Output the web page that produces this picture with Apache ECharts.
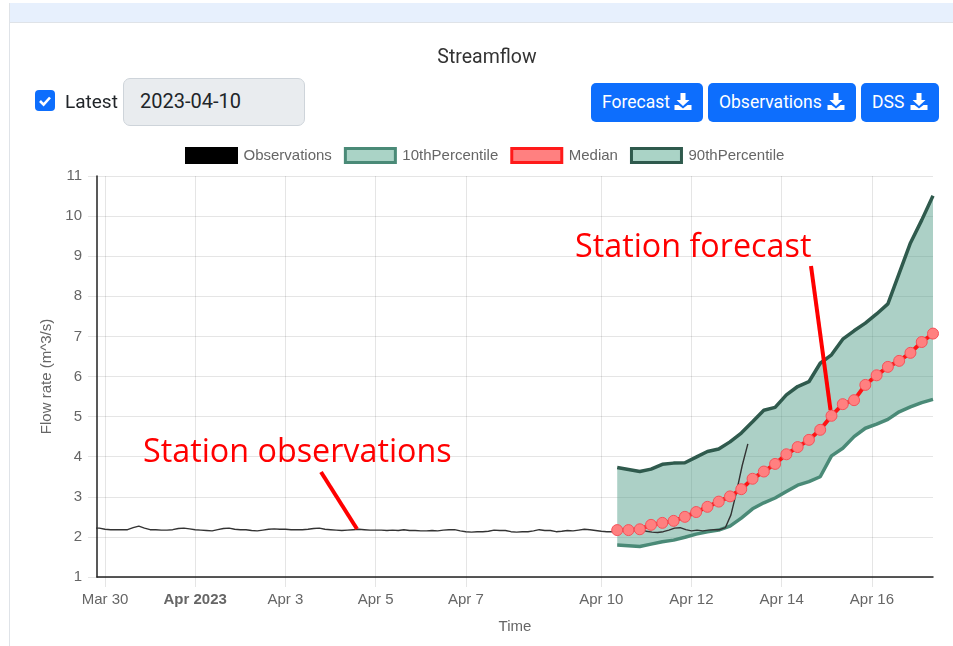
<!DOCTYPE html>
<html>
<head>
<meta charset="utf-8">
<title>Streamflow</title>
<script src="https://cdn.jsdelivr.net/npm/echarts@6/dist/echarts.min.js"></script>
<style>
    html, body { margin: 0; padding: 0; background: #fff; overflow: hidden; }
    body { width: 953px; height: 646px; position: relative; font-family: Roboto, sans-serif; }
    #band { position: absolute; left: 9px; top: 3px; width: 944px; height: 19px; background: #e7f0fd; border-bottom: 1px solid #dfe3e8; }
    #edge { position: absolute; left: 9px; top: 3px; width: 1px; height: 643px; background: #dfe3e8; }
    #chart { position: absolute; left: 0; top: 0; width: 953px; height: 646px; }
    .check { position: absolute; left: 35px; top: 90px; width: 20px; height: 21px; background: #0d6efd; border-radius: 4px; }
    .latest { position: absolute; left: 65px; top: 90px; font-size: 19px; color: #212529; }
    .date { position: absolute; left: 123px; top: 78px; width: 182px; height: 48px; box-sizing: border-box; background: #e9ecef; border: 1px solid #ced4da; border-radius: 7px; font-size: 20px; line-height: 45px; padding-left: 16px; color: #212529; }
    .btn { position: absolute; top: 83px; height: 39px; box-sizing: border-box; background: #0d6efd; border-radius: 5px; color: #fff; font-size: 17.5px; line-height: 38px; padding-left: 11px; white-space: nowrap; }
    .btn svg { position: absolute; top: 10px; width: 18px; height: 17px; }
</style>
</head>
<body>
<div id="band"></div>
<div id="edge"></div>
<div id="chart"></div>
<div class="check"><svg width="20" height="21" viewBox="0 0 20 21"><path d="M5 11 L8.6 14.6 L15 7.5" fill="none" stroke="#fff" stroke-width="2.6"/></svg></div>
<div class="latest">Latest</div>
<div class="date">2023-04-10</div>
<div class="btn" style="left:591px;width:112px">Forecast<svg style="right:11px" viewBox="0 0 17 17"><path d="M6 0 H11 V7 H15 L8.5 13 L2 7 H6 Z M0 12 H4 L8.5 15.5 L13 12 H17 V17 H0 Z" fill="#fff"/></svg></div>
<div class="btn" style="left:708px;width:148px">Observations<svg style="right:11px" viewBox="0 0 17 17"><path d="M6 0 H11 V7 H15 L8.5 13 L2 7 H6 Z M0 12 H4 L8.5 15.5 L13 12 H17 V17 H0 Z" fill="#fff"/></svg></div>
<div class="btn" style="left:861px;width:78px">DSS<svg style="right:11px" viewBox="0 0 17 17"><path d="M6 0 H11 V7 H15 L8.5 13 L2 7 H6 Z M0 12 H4 L8.5 15.5 L13 12 H17 V17 H0 Z" fill="#fff"/></svg></div>
<script>
// observations, one value every 3 hours from obsStart
const obsStart = '2023-03-29T18:00:00';
const obsStepHours = 3;
const observations = [
    2.22,
    2.22, 2.19, 2.18, 2.18, 2.18, 2.18, 2.23, 2.27, 2.22, 2.18, 2.18, 2.17, 2.17, 2.18, 2.21,
    2.22, 2.20, 2.18, 2.17, 2.16, 2.15, 2.18, 2.21, 2.22, 2.19, 2.18, 2.18, 2.16, 2.15, 2.17,
    2.19, 2.20, 2.19, 2.19, 2.18, 2.18, 2.18, 2.19, 2.21, 2.22, 2.19, 2.18, 2.17, 2.16, 2.17,
    2.18, 2.19, 2.18, 2.17, 2.17, 2.17, 2.16, 2.17, 2.16, 2.18, 2.16, 2.16, 2.15, 2.15,
    2.16, 2.15, 2.17, 2.18, 2.18, 2.15, 2.13, 2.12, 2.13, 2.13, 2.14, 2.17, 2.16, 2.16, 2.13,
    2.12, 2.13, 2.13, 2.15, 2.18, 2.16, 2.16, 2.13, 2.14, 2.16, 2.15, 2.17, 2.19, 2.18,
    2.16, 2.14, 2.13, 2.13, 2.14, 2.16, 2.18, 2.21, 2.18, 2.14, 2.12, 2.11, 2.13, 2.17, 2.22,
    2.23, 2.18, 2.15, 2.17, 2.15, 2.17, 2.18, 2.18, 2.23,
    2.55, 3.13, 3.78, 4.32
];

// forecast, one value every 6 hours from forecastStart
const forecastStart = '2023-04-10T08:30:00';
const forecastStepHours = 6;
const p10 = [
    1.80, 1.78, 1.76, 1.82, 1.88, 1.92, 1.99, 2.07, 2.13, 2.17, 2.27, 2.47, 2.70, 2.85, 2.97,
    3.13, 3.29, 3.38, 3.50, 4.02, 4.21, 4.50, 4.71, 4.81, 4.93, 5.12, 5.24, 5.35, 5.43
];
const median = [
    2.17, 2.17, 2.19, 2.30, 2.35, 2.40, 2.50, 2.62, 2.75, 2.88, 3.01, 3.19, 3.45, 3.63, 3.82,
    4.06, 4.24, 4.42, 4.67, 5.02, 5.31, 5.41, 5.79, 6.03, 6.24, 6.39, 6.59, 6.86, 7.07
];
const p90 = [
    3.73, 3.68, 3.63, 3.69, 3.81, 3.84, 3.85, 3.99, 4.13, 4.19, 4.37, 4.59, 4.87, 5.16, 5.23,
    5.54, 5.75, 5.87, 6.33, 6.54, 6.93, 7.14, 7.33, 7.56, 7.81, 8.57, 9.33, 9.90, 10.51
];

const tickDates = ['2023-03-30', '2023-04-01', '2023-04-03', '2023-04-05', '2023-04-07', '2023-04-10', '2023-04-12', '2023-04-14', '2023-04-16'];
const tickLabels = ['Mar 30', '{b|Apr 2023}', 'Apr 3', 'Apr 5', 'Apr 7', 'Apr 10', 'Apr 12', 'Apr 14', 'Apr 16'];

const HOUR = 3600000;
const toTime = s => new Date(s.length > 10 ? s : s + 'T00:00:00').getTime();
const obsPoints = observations.map((v, i) => [toTime(obsStart) + i * obsStepHours * HOUR, v]);
const forecastTimes = median.map((v, i) => toTime(forecastStart) + i * forecastStepHours * HOUR);
const tickValues = tickDates.map(toTime);
const pair = values => values.map((v, i) => [forecastTimes[i], v]);

const FONT = '"Liberation Sans", Arial, sans-serif';
const GREY = '#666';
const GRID = 'rgba(0,0,0,0.1)';
const BAND_FILL = 'rgba(62,146,122,0.43)';

function legendItem(name, fill, border) {
    return {name: name, icon: 'rect', itemStyle: {color: fill, borderColor: border, borderWidth: 3, opacity: 1}};
}

function renderBand(params, api) {
    if (params.dataIndex !== 0) return null;
    const upper = p90.map((v, i) => api.coord([forecastTimes[i], v]));
    const lower = p10.map((v, i) => api.coord([forecastTimes[i], v])).reverse();
    return {
        type: 'polygon',
        shape: {points: upper.concat(lower)},
        style: {fill: BAND_FILL},
        silent: true
    };
}

const chart = echarts.init(document.getElementById('chart'), null, {renderer: 'canvas'});
chart.setOption({
    animation: false,
    title: {
        text: 'Streamflow',
        left: 482,
        top: 43,
        textAlign: 'center',
        textStyle: {fontFamily: 'Roboto', fontSize: 19.5, fontWeight: 'normal', color: '#333'}
    },
    legend: {
        left: 185,
        top: 147,
        padding: 0,
        itemWidth: 50,
        itemHeight: 14,
        itemGap: 12,
        textStyle: {fontFamily: FONT, fontSize: 15, color: GREY, padding: [0, 0, 0, 2]},
        data: [
            legendItem('Observations', '#000', '#000'),
            legendItem('10thPercentile', '#aad3c6', '#4a8a77'),
            legendItem('Median', '#ff8080', '#ff1a1a'),
            legendItem('90thPercentile', '#aad3c6', '#2f5a4d')
        ]
    },
    grid: {left: 97, right: 20, top: 176, bottom: 69},
    // plain value axis holding timestamps: the time axis fails on customValues labels
    xAxis: {
        type: 'value',
        min: toTime('2023-03-29T19:45:00'),
        max: toTime('2023-04-17T08:30:00'),
        name: 'Time',
        nameLocation: 'middle',
        nameGap: 42,
        nameTextStyle: {fontFamily: FONT, fontSize: 15, color: GREY},
        axisLine: {onZero: false, lineStyle: {color: '#222', width: 1.5}},
        axisTick: {length: 10, lineStyle: {color: GRID}, customValues: tickValues},
        axisLabel: {
            margin: 15,
            fontFamily: FONT,
            fontSize: 15,
            color: GREY,
            customValues: tickValues,
            hideOverlap: false,
            formatter: value => tickLabels[tickValues.indexOf(value)] || '',
            rich: {b: {fontFamily: FONT, fontSize: 15, fontWeight: 'bold', color: GREY}}
        },
        splitLine: {show: true, lineStyle: {color: GRID}}
    },
    yAxis: {
        type: 'value',
        min: 1,
        max: 11,
        interval: 1,
        name: 'Flow rate (m^3/s)',
        nameLocation: 'middle',
        nameGap: 40,
        nameTextStyle: {fontFamily: FONT, fontSize: 15, color: GREY},
        axisLine: {show: true, lineStyle: {color: '#222', width: 1.5}},
        axisTick: {show: true, length: 9, lineStyle: {color: GRID}},
        axisLabel: {margin: 15, fontFamily: FONT, fontSize: 15, color: GREY},
        splitLine: {show: true, lineStyle: {color: GRID}}
    },
    series: [
        {
            name: 'band',
            type: 'custom',
            renderItem: renderBand,
            data: pair(median),
            encode: {x: 0, y: 1},
            clip: true,
            silent: true,
            z: 1
        },
        {
            name: '10thPercentile',
            type: 'line',
            data: pair(p10),
            showSymbol: false,
            lineStyle: {color: '#4a8a77', width: 3.5},
            itemStyle: {color: '#4a8a77'},
            z: 2
        },
        {
            name: '90thPercentile',
            type: 'line',
            data: pair(p90),
            showSymbol: false,
            lineStyle: {color: '#2f5a4d', width: 3.5},
            itemStyle: {color: '#2f5a4d'},
            z: 2
        },
        {
            name: 'Observations',
            type: 'line',
            data: obsPoints,
            showSymbol: false,
            lineStyle: {color: '#333', width: 1.4},
            itemStyle: {color: '#000'},
            z: 3
        },
        {
            name: 'Median',
            type: 'line',
            data: pair(median),
            symbol: 'circle',
            symbolSize: 11,
            showSymbol: true,
            lineStyle: {color: 'rgb(255,20,20)', width: 4},
            itemStyle: {color: '#ff8080', borderColor: '#f4525a', borderWidth: 1},
            z: 4
        }
    ],
    graphic: [
        {type: 'text', left: 575, top: 232, z: 100, style: {text: 'Station forecast', fill: '#f00', fontFamily: '"Open Sans"', fontSize: 32.3}},
        {type: 'text', left: 143, top: 437, z: 100, style: {text: 'Station observations', fill: '#f00', fontFamily: '"Open Sans"', fontSize: 32.3}},
        {type: 'line', z: 100, shape: {x1: 811, y1: 266, x2: 830.5, y2: 410}, style: {stroke: '#f00', lineWidth: 4}},
        {type: 'line', z: 100, shape: {x1: 321, y1: 472, x2: 357, y2: 529}, style: {stroke: '#f00', lineWidth: 4}}
    ]
});
</script>
</body>
</html>
